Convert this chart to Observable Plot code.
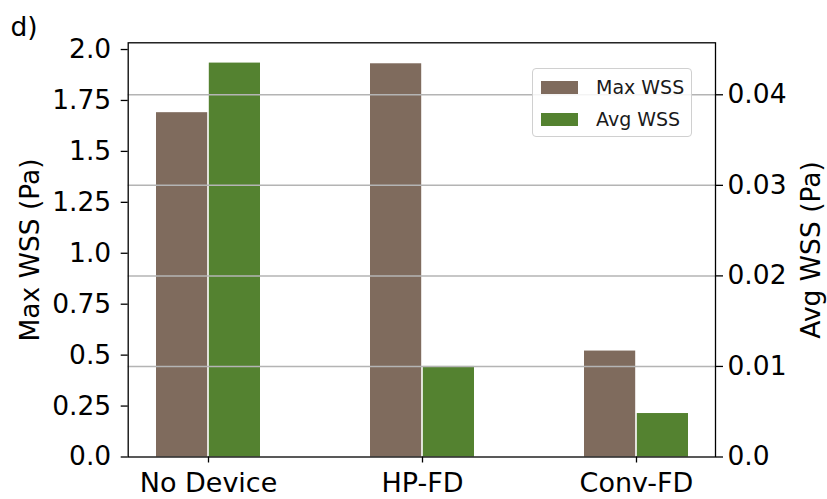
<!DOCTYPE html>
<html>
<head>
<meta charset="utf-8">
<script src="https://cdn.jsdelivr.net/npm/d3@7"></script>
<script src="https://cdn.jsdelivr.net/npm/@observablehq/plot@0.6"></script>
<style>
  html, body { margin: 0; padding: 0; background: #fff; }
  #wrap { position: relative; width: 827px; height: 499px; font-family: "DejaVu Sans", sans-serif; }
  #legend { position: absolute; left: 532px; top: 68px; width: 160px; height: 69px; box-sizing: border-box;
    border: 1px solid #d0d0d0; border-radius: 4px; background: rgba(255,255,255,0.85); }
  .item { position: absolute; left: 8px; height: 20px; display: flex; align-items: center; font-size: 19px; color: #1a1a1a; }
  .sw { width: 37px; height: 13px; margin-right: 18px; }
</style>
</head>
<body>
<div id="wrap"></div>
<script>
const categories = ["No Device", "HP-FD", "Conv-FD"];
const maxWSS = [1.69, 1.93, 0.52];
const avgWSS = [0.0435, 0.0100, 0.0048];
const seriesNames = ["Max WSS", "Avg WSS"];
const seriesColors = ["#7f6b5d", "#548230"];
const leftTicks = [0, 0.25, 0.5, 0.75, 1.0, 1.25, 1.5, 1.75, 2.0];
const leftTickLabels = ["0.0", "0.25", "0.5", "0.75", "1.0", "1.25", "1.5", "1.75", "2.0"];
const rightTicks = [0, 0.01, 0.02, 0.03, 0.04];
const rightTickLabels = ["0.0", "0.01", "0.02", "0.03", "0.04"];
const leftTop = 2.033;
const rightTop = 0.04574;

const k = leftTop / rightTop; // twin-axis conversion
const W = 827, H = 499;
const mL = 127.7, mR = 112, mT = 42.3, mB = 42.5;
const xOpts = {type: "band", domain: categories, paddingInner: 0.516, paddingOuter: 0.13};
const bw = Plot.scale({x: {...xOpts, range: [mL, W - mR]}}).bandwidth;
const half = bw / 2;

const maxData = categories.map((c, i) => ({cat: c, v: maxWSS[i]}));
const avgData = categories.map((c, i) => ({cat: c, v: avgWSS[i] * k}));

const font = "DejaVu Sans";
const chart = Plot.plot({
  width: W, height: H,
  marginLeft: mL, marginRight: mR, marginTop: mT, marginBottom: mB,
  style: {fontFamily: font, fontSize: "26px", color: "#000", background: "#fff"},
  x: {domain: categories, paddingInner: 0.516, paddingOuter: 0.13, axis: null},
  y: {domain: [0, leftTop], axis: null},
  marks: [
    Plot.barY(maxData, {x: "cat", y: "v", fill: seriesColors[0], insetLeft: 0, insetRight: half + 1}),
    Plot.barY(avgData, {x: "cat", y: "v", fill: seriesColors[1], insetLeft: half + 1, insetRight: 0}),
    Plot.ruleY(rightTicks.slice(1), {y: d => d * k, stroke: "#b4b4b4", strokeWidth: 1.5}),
    Plot.frame({stroke: "#000", strokeWidth: 1.3}),
    Plot.axisY({anchor: "left", ticks: leftTicks, tickFormat: (d, i) => leftTickLabels[i],
      tickSize: 7, tickPadding: 10, fontSize: 26.5, label: null, strokeWidth: 1.3}),
    Plot.axisY({anchor: "right", ticks: rightTicks.map(d => d * k), tickFormat: (d, i) => rightTickLabels[i],
      tickSize: 7, tickPadding: 5, fontSize: 26.5, label: null, strokeWidth: 1.3}),
    Plot.axisX({anchor: "bottom", tickSize: 6, tickPadding: 10, fontSize: 27, label: null, strokeWidth: 1.3}),
    Plot.text(["Max WSS (Pa)"], {frameAnchor: "left", textAnchor: "middle", lineAnchor: "middle", dx: -97.7, rotate: -90, fontSize: 26.5, fill: "#000"}),
    Plot.text(["Avg WSS (Pa)"], {frameAnchor: "right", textAnchor: "middle", lineAnchor: "middle", dx: 96, rotate: -90, fontSize: 26.5, fill: "#000"}),
    Plot.text(["d)"], {frameAnchor: "top-left", textAnchor: "start", lineAnchor: "bottom", dx: -117.7, dy: -7.3, fontSize: 26.5, fill: "#000"})
  ]
});
const wrap = document.getElementById("wrap");
wrap.appendChild(chart);

const legend = document.createElement("div");
legend.id = "legend";
seriesNames.forEach((name, i) => {
  const item = document.createElement("div");
  item.className = "item";
  item.style.top = (i === 0 ? 8 : 40) + "px";
  const sw = document.createElement("span");
  sw.className = "sw";
  sw.style.background = seriesColors[i];
  const t = document.createElement("span");
  t.textContent = name;
  item.appendChild(sw);
  item.appendChild(t);
  legend.appendChild(item);
});
wrap.appendChild(legend);
</script>
</body>
</html>
